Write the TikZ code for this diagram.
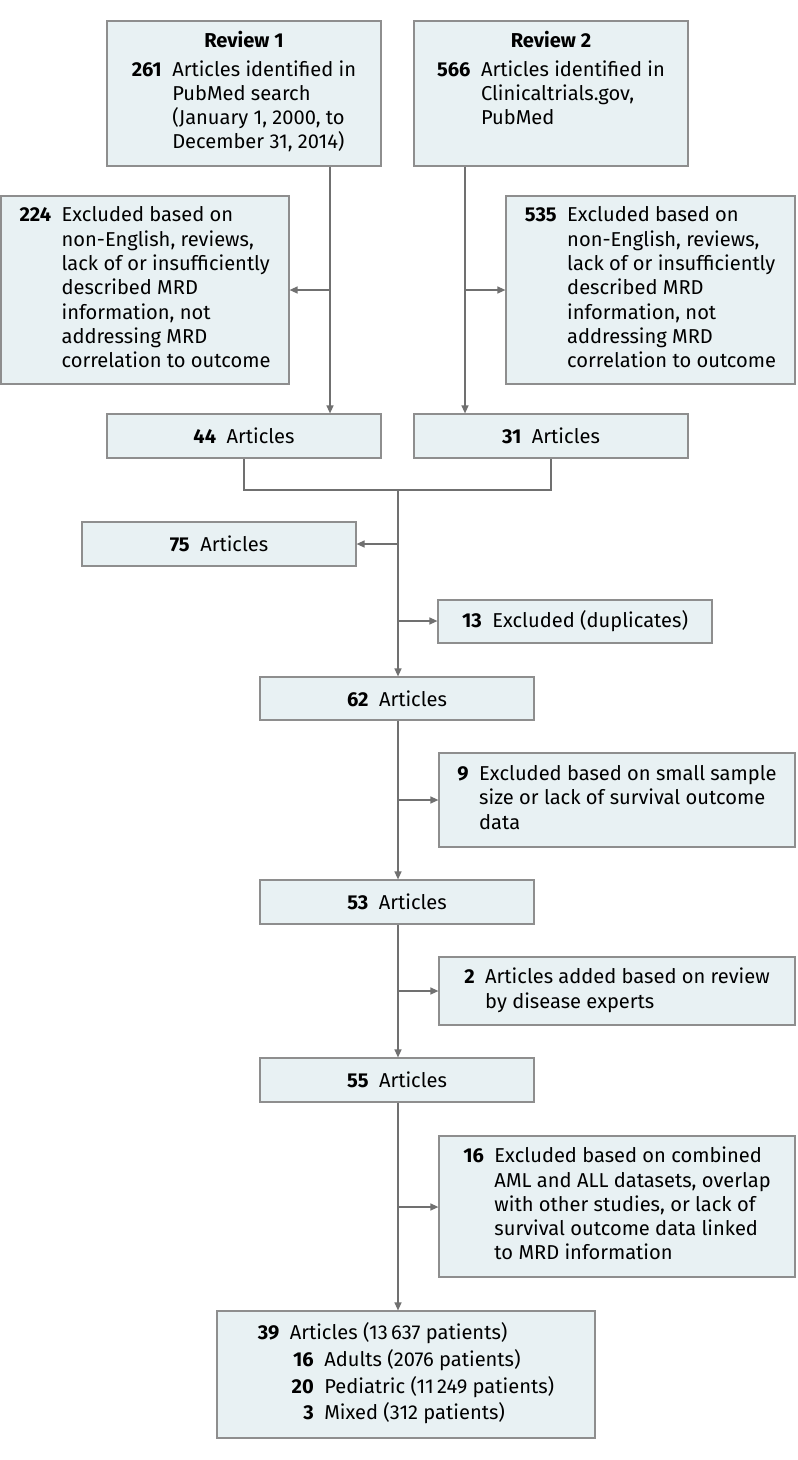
\documentclass[tikz,border=0pt]{standalone}
\usepackage{fontspec}
\setmainfont{Fira Sans}
\usetikzlibrary{arrows.meta}
\definecolor{boxfill}{HTML}{E8F1F3}
\definecolor{boxline}{HTML}{8E8E8E}
\definecolor{connc}{HTML}{707070}
\newcommand\bodysize{\fontsize{20.1}{24.3}\selectfont}
\newcommand\subnum[1]{\makebox[24pt][r]{\textbf{#1}}\hspace{10.5pt}}
\begin{document}
\begin{tikzpicture}[x=1pt,y=-1pt,
  box/.style={draw=boxline, fill=boxfill, line width=1.2pt, inner sep=0pt, font=\bodysize, align=center},
  conn/.style={draw=connc, line width=1.3pt},
  arr/.style={conn, -{Triangle[length=8pt,width=7pt]}}]
\useasboundingbox (0,0) rectangle (798,1460);
\fill[white] (0,0) rectangle (798,1460);

% top row
\node[box, minimum width=274pt, minimum height=145pt] (r1) at (244,93.5)
 {\begin{tabular}{@{}r@{\hspace{10.5pt}}l@{}}\multicolumn{2}{c}{\textbf{Review 1}}\\[4pt]
  \textbf{261} & Articles identified in\\ & PubMed search\\ & (January 1, 2000, to\\ & December 31, 2014)\end{tabular}};
\node[box, minimum width=274pt, minimum height=145pt] (r2) at (551,93.5)
 {\begin{tabular}{@{}r@{\hspace{10.5pt}}l@{}}\multicolumn{2}{c}{\textbf{Review 2}}\\[4pt]
  \textbf{566} & Articles identified in\\ & Clinicaltrials.gov,\\ & PubMed\\ & \end{tabular}};

\node[box, minimum width=288pt, minimum height=188pt] (e224) at (145,290)
 {\begin{tabular}{@{}r@{\hspace{10.5pt}}l@{}}\textbf{224} & Excluded based on\\ & non-English, reviews,\\ & lack of or insufficiently\\ & described MRD\\ & information, not\\ & addressing MRD\\ & correlation to outcome\end{tabular}};
\node[box, minimum width=289pt, minimum height=188pt] (e535) at (650.5,290)
 {\begin{tabular}{@{}r@{\hspace{10.5pt}}l@{}}\textbf{535} & Excluded based on\\ & non-English, reviews,\\ & lack of or insufficiently\\ & described MRD\\ & information, not\\ & addressing MRD\\ & correlation to outcome\end{tabular}};

\node[box, minimum width=274pt, minimum height=44pt] (a44) at (244,436) {\textbf{44}\hspace{10.5pt}Articles};
\node[box, minimum width=274pt, minimum height=44pt] (a31) at (551,436) {\textbf{31}\hspace{10.5pt}Articles};

\node[box, minimum width=274pt, minimum height=44pt] (a75) at (219,544) {\textbf{75}\hspace{10.5pt}Articles};
\node[box, minimum width=274pt, minimum height=43pt] (e13) at (575,621.5) {\textbf{13}\hspace{10.5pt}Excluded (duplicates)};

\node[box, minimum width=274pt, minimum height=43pt] (a62) at (397,698.5) {\textbf{62}\hspace{10.5pt}Articles};
\node[box, minimum width=356pt, minimum height=94pt] (e9) at (617,800)
 {\begin{tabular}{@{}r@{\hspace{10.5pt}}l@{}}\textbf{9} & Excluded based on small sample\\ & size or lack of survival outcome\\ & data\end{tabular}};

\node[box, minimum width=274pt, minimum height=44pt] (a53) at (397,902) {\textbf{53}\hspace{10.5pt}Articles};
\node[box, minimum width=356pt, minimum height=68pt] (e2) at (617,991)
 {\begin{tabular}{@{}r@{\hspace{10.5pt}}l@{}}\textbf{2} & Articles added based on review\\ & by disease experts\end{tabular}};

\node[box, minimum width=274pt, minimum height=44pt] (a55) at (397,1080) {\textbf{55}\hspace{10.5pt}Articles};
\node[box, minimum width=356pt, minimum height=141pt] (e16) at (617,1206.5)
 {\begin{tabular}{@{}r@{\hspace{10.5pt}}l@{}}\textbf{16} & Excluded based on combined\\ & AML and ALL datasets, overlap\\ & with other studies, or lack of\\ & survival outcome data linked\\ & to MRD information\end{tabular}};

\node[box, minimum width=378pt, minimum height=127pt] (fin) at (406,1374.5)
 {\renewcommand\arraystretch{1.1}\begin{tabular}{@{}r@{\hspace{10.5pt}}l@{}}\textbf{39} & Articles (13\,637 patients)\\
  & \subnum{16}Adults (2076 patients)\\
  & \subnum{20}Pediatric (11\,249 patients)\\
  & \subnum{3}Mixed (312 patients)\end{tabular}};

% connectors
\coordinate (j1) at (330,290);
\coordinate (j2) at (465,290);
\draw[arr] (r1.south -| j1) -- (a44.north -| j1);
\draw[arr] (j1) -- (j1 -| e224.east);
\draw[arr] (r2.south -| j2) -- (a31.north -| j2);
\draw[arr] (j2) -- (j2 -| e535.west);

\coordinate (m1) at (398,490);
\draw[conn] (a44.south) -- (a44.south |- m1) -- (a31.south |- m1) -- (a31.south);
\draw[arr] (m1) -- (m1 |- a62.north);
\coordinate (b75) at (398,544);
\coordinate (b13) at (398,621);
\draw[arr] (b75) -- (b75 -| a75.east);
\draw[arr] (b13) -- (b13 -| e13.west);

\draw[arr] (a62.south -| m1) -- (a53.north -| m1);
\coordinate (b9) at (398,800);
\draw[arr] (b9) -- (b9 -| e9.west);

\draw[arr] (a53.south -| m1) -- (a55.north -| m1);
\coordinate (b2) at (398,991);
\draw[arr] (b2) -- (b2 -| e2.west);

\draw[arr] (a55.south -| m1) -- (fin.north -| m1);
\coordinate (b16) at (398,1207);
\draw[arr] (b16) -- (b16 -| e16.west);
\end{tikzpicture}
\end{document}
